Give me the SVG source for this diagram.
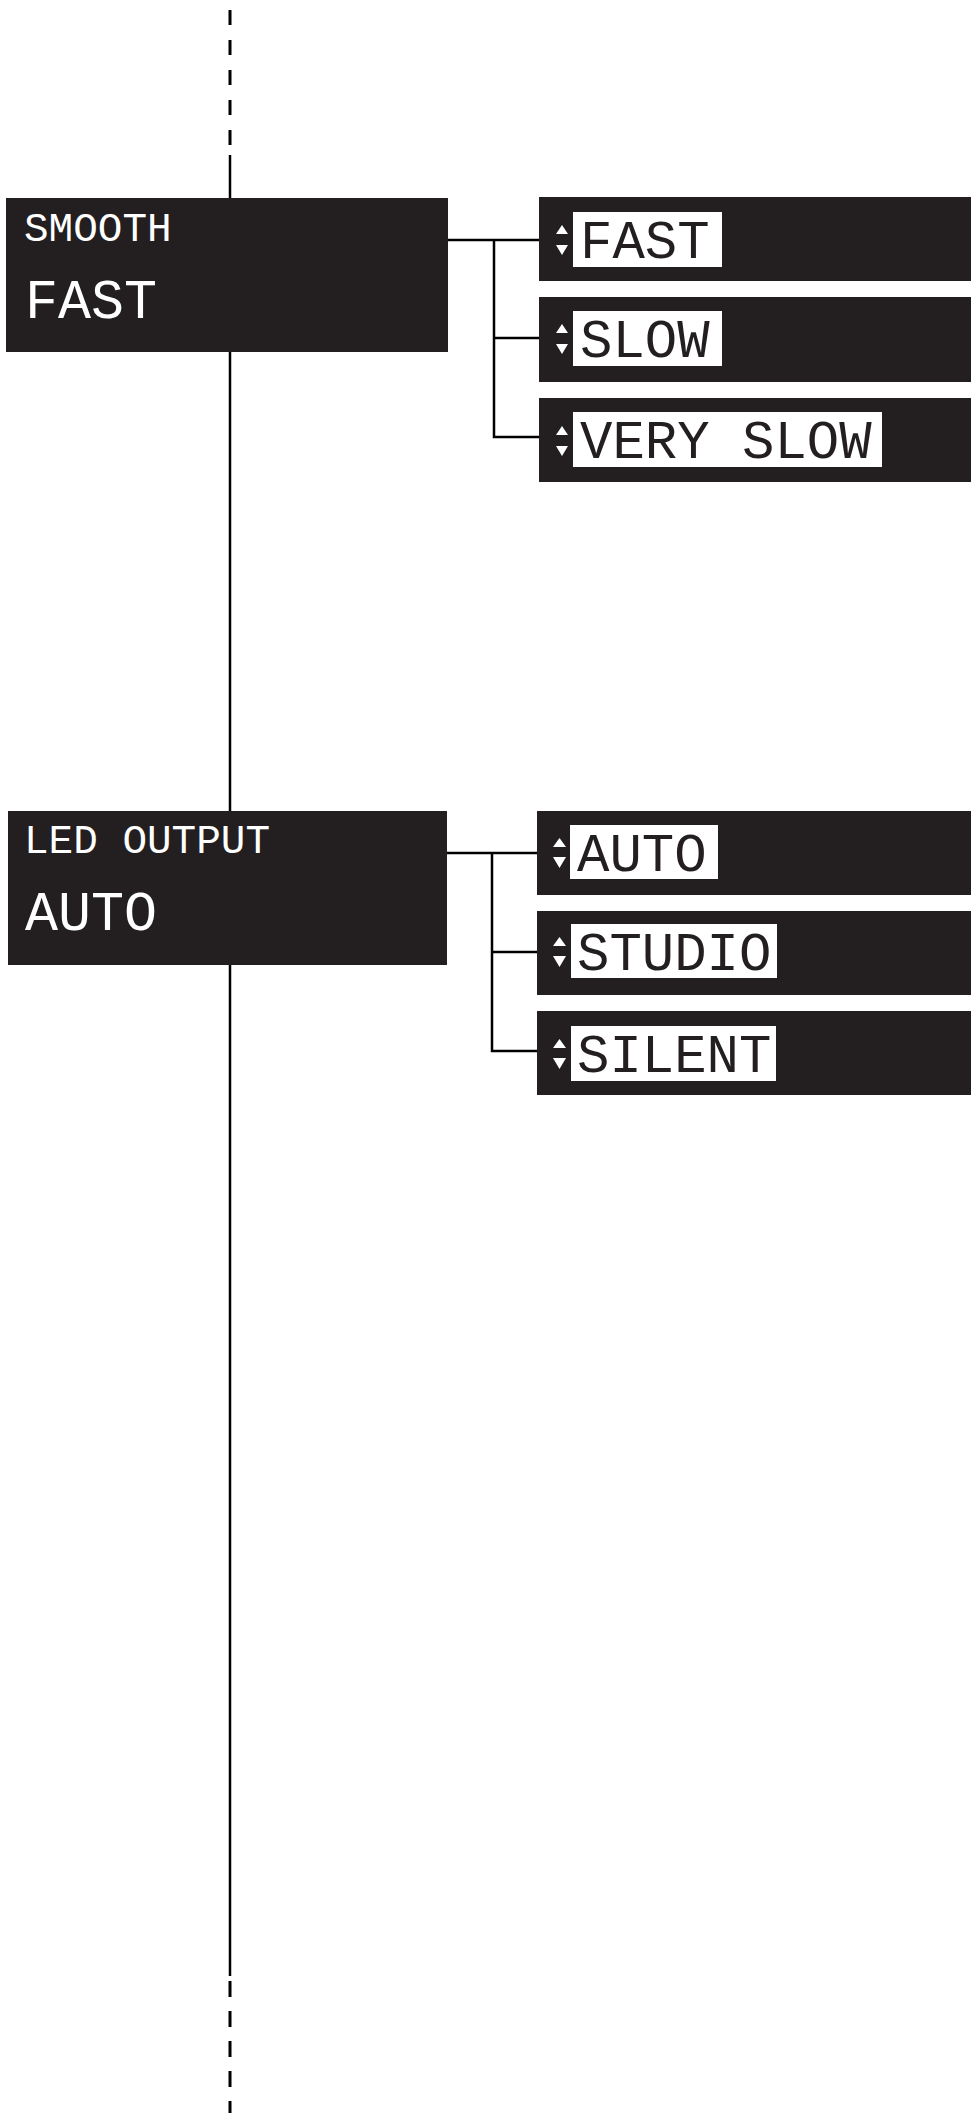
<svg xmlns="http://www.w3.org/2000/svg" width="971" height="2113" viewBox="0 0 971 2113">
<style>
.panel{fill:#231f20}
.lbl{fill:#ffffff}
.wire{stroke:#000;stroke-width:2.5;fill:none}
.dash{stroke:#000;stroke-width:3;fill:none;stroke-dasharray:15 15}
.hdr{font-family:"Liberation Mono","DejaVu Sans Mono",monospace;fill:#ffffff;font-size:41px}
.val{font-family:"Liberation Mono","DejaVu Sans Mono",monospace;fill:#ffffff;font-size:55px}
.opt{font-family:"Liberation Mono","DejaVu Sans Mono",monospace;fill:#231f20;font-size:54px}
.tri{fill:#ffffff}
</style>
<rect width="971" height="2113" fill="#ffffff"/>
<g id="connectors">
<line class="dash" x1="230" y1="10" x2="230" y2="155"/>
<line class="wire" x1="230" y1="155" x2="230" y2="1976"/>
<line class="dash" x1="230" y1="1981" x2="230" y2="2113" style="stroke-dasharray:16 14"/>
<polyline class="wire" points="448,240 540,240"/>
<polyline class="wire" points="494,240 494,437 540,437"/>
<polyline class="wire" points="494,338 540,338"/>
<polyline class="wire" points="447,853 538,853"/>
<polyline class="wire" points="492,853 492,1051 538,1051"/>
<polyline class="wire" points="492,952 538,952"/>
</g>
<g id="smooth">
<rect class="panel" x="6" y="198" width="442" height="154"/>
<text class="hdr" x="24" y="241">SMOOTH</text>
<text class="val" x="25" y="318">FAST</text>
</g>
<g id="opt-fast">
<rect class="panel" x="539" y="197" width="432" height="84"/>
<polygon class="tri" points="562,225 568,234 556,234"/>
<polygon class="tri" points="556,245 568,245 562,255"/>
<rect class="lbl" x="573" y="212" width="149" height="55"/>
<text class="opt" x="580" y="258">FAST</text>
</g>
<g id="opt-slow">
<rect class="panel" x="539" y="297" width="432" height="85"/>
<polygon class="tri" points="562,324 568,333 556,333"/>
<polygon class="tri" points="556,344 568,344 562,354"/>
<rect class="lbl" x="573" y="311" width="149" height="55"/>
<text class="opt" x="580" y="357">SLOW</text>
</g>
<g id="opt-very-slow">
<rect class="panel" x="539" y="398" width="432" height="84"/>
<polygon class="tri" points="562,426 568,435 556,435"/>
<polygon class="tri" points="556,446 568,446 562,456"/>
<rect class="lbl" x="573" y="412" width="309" height="55"/>
<text class="opt" x="580" y="458">VERY SLOW</text>
</g>
<g id="led-output">
<rect class="panel" x="8" y="811" width="439" height="154"/>
<text class="hdr" x="24" y="853">LED OUTPUT</text>
<text class="val" x="25" y="930">AUTO</text>
</g>
<g id="opt-auto">
<rect class="panel" x="537" y="811" width="434" height="84"/>
<polygon class="tri" points="559.5,838 566,847 553,847"/>
<polygon class="tri" points="553,857 566,857 559.5,868"/>
<rect class="lbl" x="570" y="825" width="148" height="54"/>
<text class="opt" x="577" y="871">AUTO</text>
</g>
<g id="opt-studio">
<rect class="panel" x="537" y="911" width="434" height="84"/>
<polygon class="tri" points="559.5,937 566,946 553,946"/>
<polygon class="tri" points="553,956 566,956 559.5,967"/>
<rect class="lbl" x="571" y="924" width="206" height="54"/>
<text class="opt" x="577" y="970">STUDIO</text>
</g>
<g id="opt-silent">
<rect class="panel" x="537" y="1011" width="434" height="84"/>
<polygon class="tri" points="559.5,1039 566,1048 553,1048"/>
<polygon class="tri" points="553,1058 566,1058 559.5,1069"/>
<rect class="lbl" x="571" y="1026" width="205" height="55"/>
<text class="opt" x="577" y="1072">SILENT</text>
</g>
</svg>
